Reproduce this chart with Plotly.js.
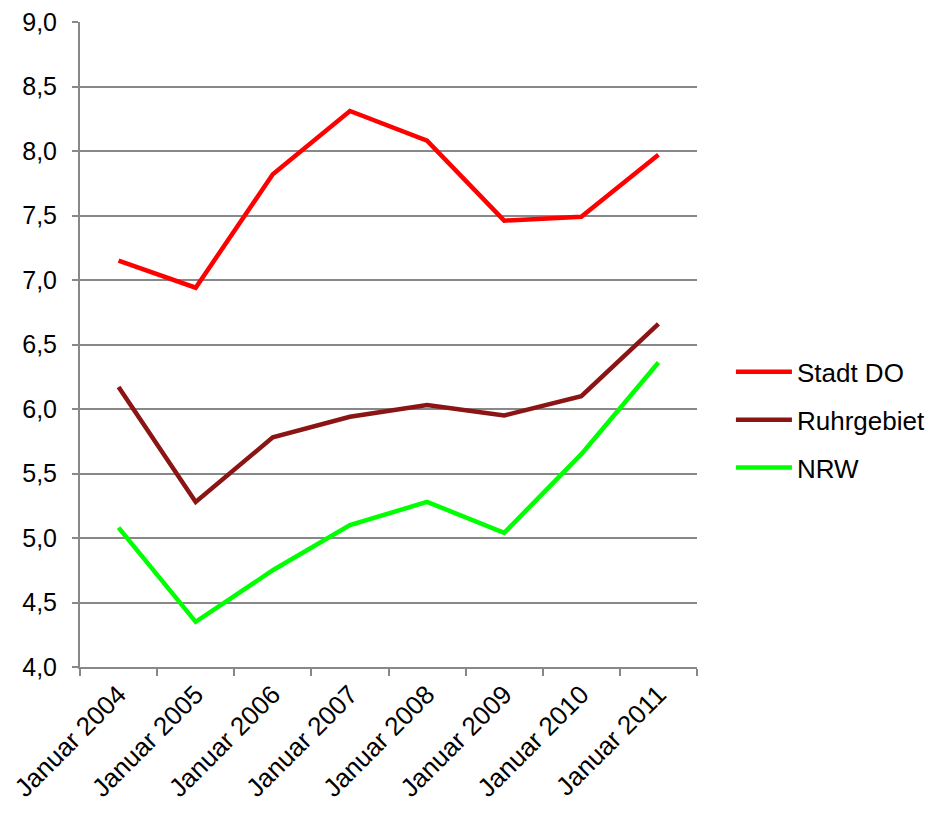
<!DOCTYPE html>
<html>
<head>
<meta charset="utf-8">
<script src="https://cdn.plot.ly/plotly-3.0.1.min.js"></script>
<style>html,body{margin:0;padding:0;background:#fff;}#chart{width:931px;height:819px;}</style>
</head>
<body>
<div id="chart"></div>
<script>
var categories = ["Januar 2004","Januar 2005","Januar 2006","Januar 2007","Januar 2008","Januar 2009","Januar 2010","Januar 2011"];
var stadtDO = [7.15, 6.94, 7.82, 8.31, 8.08, 7.46, 7.49, 7.97];
var ruhrgebiet = [6.17, 5.28, 5.78, 5.94, 6.03, 5.95, 6.10, 6.66];
var nrw = [5.08, 4.35, 4.75, 5.10, 5.28, 5.04, 5.65, 6.36];
var seriesNames = ["Stadt DO", "Ruhrgebiet", "NRW"];
var yTicks = [4.0, 4.5, 5.0, 5.5, 6.0, 6.5, 7.0, 7.5, 8.0, 8.5, 9.0];

var colors = ["#ff0000", "#8b1515", "#00ff00"];
var data = [stadtDO, ruhrgebiet, nrw].map(function(v, i){
  return {x: categories, y: v, type: "scatter", mode: "lines", name: seriesNames[i],
          legendgroup: "g" + i,
          line: {color: colors[i], width: 4.5}};
});

var layout = {
  width: 931, height: 819,
  margin: {l: 80, r: 234, t: 22, b: 152, autoexpand: false},
  paper_bgcolor: "#fff", plot_bgcolor: "#fff",
  separators: ",.",
  font: {family: "Liberation Sans, Arial, sans-serif", size: 25, color: "#000"},
  showlegend: true,
  legend: {x: 1.055, y: 0.383, xanchor: "left", yanchor: "middle",
           font: {size: 26, color: "#000"}, traceorder: "grouped", tracegroupgap: 11, itemwidth: 56,
           bgcolor: "rgba(0,0,0,0)"},
  xaxis: {type: "category", range: [-0.5, 7.5], tickson: "boundaries", automargin: false,
          showgrid: false, showline: true, linecolor: "#888", linewidth: 2,
          ticks: "outside", ticklen: 7, tickcolor: "#888", tickwidth: 2,
          tickangle: -45, tickfont: {size: 26}, fixedrange: true},
  yaxis: {range: [4, 9], tickvals: yTicks, tickformat: ".1f", automargin: false,
          showgrid: true, gridcolor: "#888", gridwidth: 2,
          showline: true, linecolor: "#888", linewidth: 2,
          ticks: "outside", ticklen: 6, tickcolor: "#888", tickwidth: 2,
          tickfont: {size: 25}, zeroline: false, ticklabelstandoff: 10, fixedrange: true}
};
Plotly.newPlot("chart", data, layout, {staticPlot: true});
</script>
</body>
</html>
